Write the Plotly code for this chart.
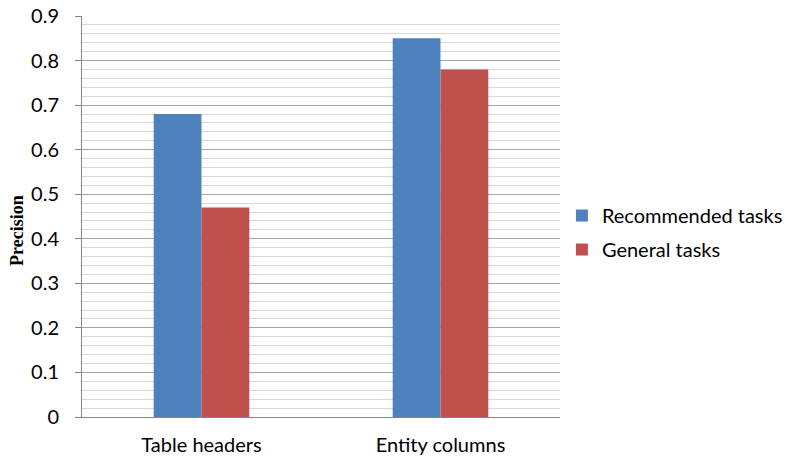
import plotly.graph_objects as go

categories = ["Table headers", "Entity columns"]
recommended = [0.68, 0.85]
general = [0.47, 0.78]
series_names = ["Recommended tasks", "General tasks"]
tick_vals = [0, 0.1, 0.2, 0.3, 0.4, 0.5, 0.6, 0.7, 0.8, 0.9]
tick_text = ["0", "0.1", "0.2", "0.3", "0.4", "0.5", "0.6", "0.7", "0.8", "0.9"]
y_title = "Precision"

font_family = "Lato, Carlito, Calibri, sans-serif"

fig = go.Figure()
fig.add_trace(go.Bar(x=categories, y=recommended, name=series_names[0], legendgroup="a",
                     marker=dict(color="#4F81BD", line=dict(width=0))))
fig.add_trace(go.Bar(x=categories, y=general, name=series_names[1], legendgroup="b",
                     marker=dict(color="#C0504D", line=dict(width=0))))

fig.update_layout(
    width=787, height=462,
    margin=dict(l=82, r=227, t=16, b=45, autoexpand=False),
    paper_bgcolor="white", plot_bgcolor="white",
    barmode="group", bargap=0.6, bargroupgap=0,
    font=dict(family=font_family, size=20, color="#000000"),
    legend=dict(x=1.004, y=0.46, xanchor="left", yanchor="middle",
                font=dict(family=font_family, size=20),
                traceorder="grouped", itemwidth=30, tracegroupgap=5),
    xaxis=dict(showgrid=False, showline=True, linecolor="#868686", linewidth=1,
               ticks="", tickfont=dict(size=20), ticklabelstandoff=10, automargin=False),
    yaxis=dict(range=[0, 0.9], tickvals=tick_vals, ticktext=tick_text,
               showline=True, linecolor="#868686", linewidth=1,
               ticks="outside", ticklen=6, tickcolor="#868686",
               showgrid=True, gridcolor="#A6A6A6", gridwidth=1,
               minor=dict(dtick=0.02, showgrid=True, gridcolor="#D9D9D9", gridwidth=1, ticks=""),
               zeroline=False, tickfont=dict(size=20), ticklabelstandoff=12,
               automargin=False),
    annotations=[dict(text="<b>" + y_title + "</b>", xref="paper", yref="paper",
                      x=-65 / 478, y=(417 - 231) / 401, xanchor="center", yanchor="middle",
                      textangle=-90, showarrow=False,
                      font=dict(family="Liberation Serif, Times New Roman, serif", size=18))],
)

fig.write_html("out.html", config={"displayModeBar": False},
               post_script="document.body.style.margin='0';document.body.style.padding='0';")
